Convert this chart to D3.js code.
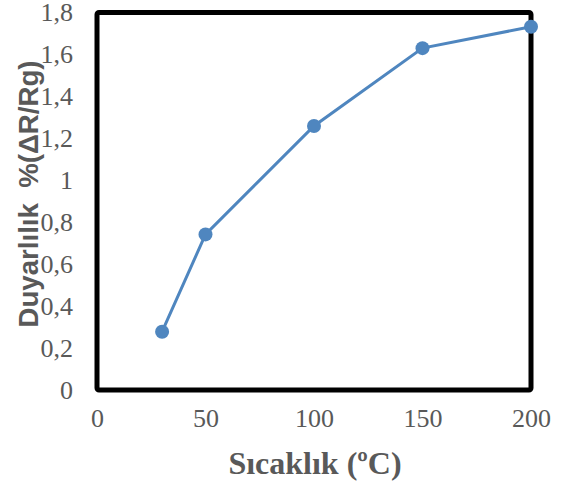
<!DOCTYPE html>
<html>
<head>
<meta charset="utf-8">
<script src="https://cdn.jsdelivr.net/npm/d3@7"></script>
<style>
  html, body { margin: 0; padding: 0; background: #fff; }
  svg { display: block; }
</style>
</head>
<body>
<div id="chart"></div>
<script>
// Sensitivity vs. temperature
const temperatures = [30, 50, 100, 150, 200];
const sensitivity = [0.278, 0.742, 1.259, 1.63, 1.732];
const xTicks = [0, 50, 100, 150, 200];
const yTicks = [0, 0.2, 0.4, 0.6, 0.8, 1, 1.2, 1.4, 1.6, 1.8];

const width = 562, height = 490;
const plot = { left: 97, right: 531, top: 12.5, bottom: 390 };

const svg = d3.select("#chart").append("svg")
  .attr("width", width).attr("height", height);

const x = d3.scaleLinear().domain([0, 200]).range([plot.left, plot.right]);
const y = d3.scaleLinear().domain([0, 1.8]).range([plot.bottom, plot.top]);

const fmt = v => d3.format("")(+v.toFixed(1)).replace(".", ",");
const tickColor = "#595959";
const serif = "'Liberation Serif', 'Times New Roman', serif";

// Y axis labels
const yAxis = d3.axisLeft(y).tickValues(yTicks).tickFormat(fmt).tickSize(0).tickPadding(24);
svg.append("g").attr("transform", `translate(${plot.left},0)`).call(yAxis)
  .attr("font-family", serif).attr("font-size", 26)
  .call(g => g.select(".domain").remove())
  .call(g => g.selectAll("text").attr("fill", tickColor));

// X axis labels
const xAxis = d3.axisBottom(x).tickValues(xTicks).tickFormat(d3.format("d")).tickSize(0).tickPadding(19);
svg.append("g").attr("transform", `translate(0,${plot.bottom})`).call(xAxis)
  .attr("font-family", serif).attr("font-size", 26)
  .call(g => g.select(".domain").remove())
  .call(g => g.selectAll("text").attr("fill", tickColor));

// Plot frame
svg.append("rect")
  .attr("x", plot.left).attr("y", plot.top)
  .attr("width", plot.right - plot.left).attr("height", plot.bottom - plot.top)
  .attr("rx", 2)
  .attr("fill", "none").attr("stroke", "#000").attr("stroke-width", 5);

// Series line
const pts = temperatures.map((t, i) => ({ t, v: sensitivity[i] }));
svg.append("path").datum(pts)
  .attr("fill", "none").attr("stroke", "#4f86bf").attr("stroke-width", 3)
  .attr("d", d3.line().x(d => x(d.t)).y(d => y(d.v)));

svg.selectAll("circle.pt").data(pts).enter().append("circle")
  .attr("class", "pt")
  .attr("cx", d => x(d.t)).attr("cy", d => y(d.v)).attr("r", 7)
  .attr("fill", "#4f86bf");

// Axis titles
svg.append("text")
  .attr("x", 315).attr("y", 474)
  .attr("text-anchor", "middle")
  .attr("fill", tickColor).attr("font-family", serif)
  .attr("font-weight", "bold").attr("font-size", 32)
  .text("Sıcaklık (ºC)");

svg.append("text")
  .attr("transform", "translate(38,194) rotate(-90)")
  .attr("text-anchor", "middle")
  .attr("fill", tickColor).attr("font-family", "'Liberation Sans', Arial, sans-serif")
  .attr("font-weight", "bold").attr("font-size", 27)
  .attr("textLength", 267).attr("lengthAdjust", "spacingAndGlyphs")
  .attr("xml:space", "preserve")
  .text("Duyarlılık  %(ΔR/Rg)");
</script>
</body>
</html>
